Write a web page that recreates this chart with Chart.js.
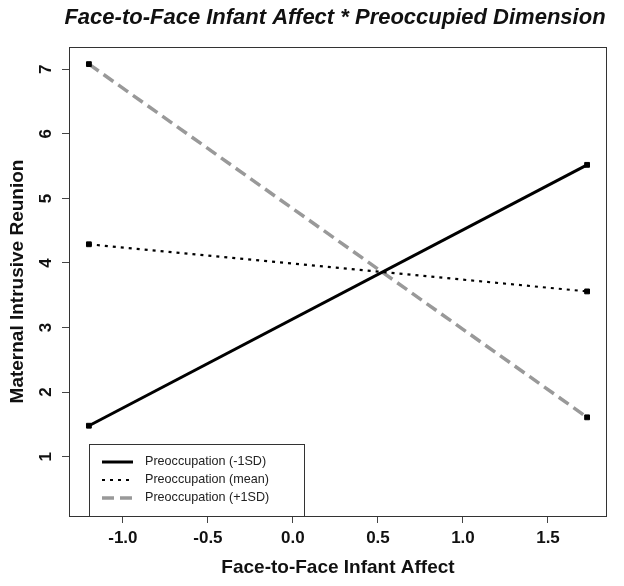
<!DOCTYPE html>
<html>
<head>
<meta charset="utf-8">
<script src="https://cdn.jsdelivr.net/npm/chart.js@4"></script>
<style>
  html, body { margin: 0; padding: 0; background: #fff; }
  #wrap { width: 624px; height: 586px; position: relative; }
</style>
</head>
<body>
<div id="wrap"><canvas id="c" width="624" height="586"></canvas></div>
<script>
// ---- data ----
const xValues = [-1.2, 1.73];
const lowSD  = [1.48, 5.52];   // Preoccupation (-1SD)
const meanSD = [4.29, 3.56];   // Preoccupation (mean)
const highSD = [7.08, 1.61];   // Preoccupation (+1SD)
const seriesNames = ['Preoccupation (-1SD)', 'Preoccupation (mean)', 'Preoccupation (+1SD)'];
const xTicks = [-1.0, -0.5, 0.0, 0.5, 1.0, 1.5];
const yTicks = [1, 2, 3, 4, 5, 6, 7];
const titleText = 'Face-to-Face Infant Affect * Preoccupied Dimension';
const xTitle = 'Face-to-Face Infant Affect';
const yTitle = 'Maternal Intrusive Reunion';

const FONT = '"Liberation Sans", Arial, sans-serif';
const styles = [
  { color: '#000000', width: 3, dash: [] },
  { color: '#000000', width: 2.2, dash: [3, 5] },
  { color: '#999999', width: 3.5, dash: [12, 6] }
];

function pts(ys) { return xValues.map((x, i) => ({ x: x, y: ys[i] })); }
const allSeries = [lowSD, meanSD, highSD];

const datasets = allSeries.map((s, i) => ({
  label: seriesNames[i],
  data: pts(s),
  borderColor: styles[i].color,
  borderWidth: styles[i].width,
  borderDash: styles[i].dash,
  pointStyle: 'rect',
  pointRadius: 3.4,
  pointBackgroundColor: '#000',
  pointBorderColor: '#000',
  pointBorderWidth: 1,
  fill: false,
  tension: 0
}));

const decor = {
  id: 'decor',
  afterDraw(chart) {
    const ctx = chart.ctx;
    const a = chart.chartArea;
    ctx.save();
    // box
    ctx.strokeStyle = '#333';
    ctx.lineWidth = 1;
    ctx.setLineDash([]);
    ctx.strokeRect(a.left + 0.5, a.top + 0.5, a.right - a.left - 1, a.bottom - a.top);
    // title
    ctx.fillStyle = '#111';
    ctx.textAlign = 'center';
    ctx.textBaseline = 'middle';
    ctx.font = 'italic bold 22px ' + FONT;
    ctx.fillText(titleText, (a.left + a.right) / 2 - 3, 18);
    // x title
    ctx.font = 'bold 19px ' + FONT;
    ctx.fillText(xTitle, (a.left + a.right) / 2, 568);
    // y title
    ctx.save();
    ctx.translate(18, (a.top + a.bottom) / 2);
    ctx.rotate(-Math.PI / 2);
    ctx.fillText(yTitle, 0, 0);
    ctx.restore();
    // y tick labels (rotated like R)
    const ys = chart.scales.y;
    ctx.font = 'bold 17px ' + FONT;
    yTicks.forEach(v => {
      const py = ys.getPixelForValue(v);
      ctx.save();
      ctx.translate(46, py);
      ctx.rotate(-Math.PI / 2);
      ctx.fillText(String(v), 0, 0);
      ctx.restore();
    });
    // legend
    const lx = 89, ly = 444, lw = 215, lh = a.bottom - 444;
    ctx.fillStyle = '#fff';
    ctx.fillRect(lx, ly, lw, lh);
    ctx.strokeStyle = '#333';
    ctx.lineWidth = 1;
    ctx.strokeRect(lx + 0.5, ly + 0.5, lw, lh);
    const rowY = [462, 480, 498];
    ctx.textAlign = 'left';
    ctx.font = '12.6px ' + FONT;
    seriesNames.forEach((n, i) => {
      ctx.beginPath();
      ctx.strokeStyle = styles[i].color;
      ctx.lineWidth = styles[i].width;
      ctx.setLineDash(styles[i].dash);
      ctx.moveTo(102, rowY[i]);
      ctx.lineTo(133, rowY[i]);
      ctx.stroke();
      ctx.setLineDash([]);
      ctx.fillStyle = '#222';
      ctx.fillText(n, 145, rowY[i]);
    });
    ctx.restore();
  }
};

new Chart(document.getElementById('c'), {
  type: 'line',
  data: { datasets: datasets },
  options: {
    responsive: false,
    animation: false,
    layout: { padding: { top: 47, right: 17, left: 0, bottom: 0 } },
    plugins: { legend: { display: false }, title: { display: false }, tooltip: { enabled: false } },
    scales: {
      x: {
        type: 'linear',
        min: -1.317, max: 1.847,
        afterBuildTicks(s) { s.ticks = xTicks.map(v => ({ value: v })); },
        afterFit(s) { s.height = 70; },
        border: { display: false },
        grid: { display: true, drawOnChartArea: false, drawTicks: true, tickLength: 7, tickColor: '#444', lineWidth: 1 },
        ticks: {
          autoSkip: false, maxRotation: 0, minRotation: 0, padding: 5,
          color: '#111',
          font: { family: FONT, size: 17, weight: 'bold' },
          callback: v => Number(v).toFixed(1)
        }
      },
      y: {
        type: 'linear',
        min: 0.082, max: 7.345,
        afterBuildTicks(s) { s.ticks = yTicks.map(v => ({ value: v })); },
        afterFit(s) { s.width = 69; },
        border: { display: false },
        grid: { display: true, drawOnChartArea: false, drawTicks: true, tickLength: 7, tickColor: '#444', lineWidth: 1 },
        ticks: { color: 'rgba(0,0,0,0)', font: { family: FONT, size: 15, weight: 'bold' } }
      }
    }
  },
  plugins: [decor]
});
</script>
</body>
</html>
